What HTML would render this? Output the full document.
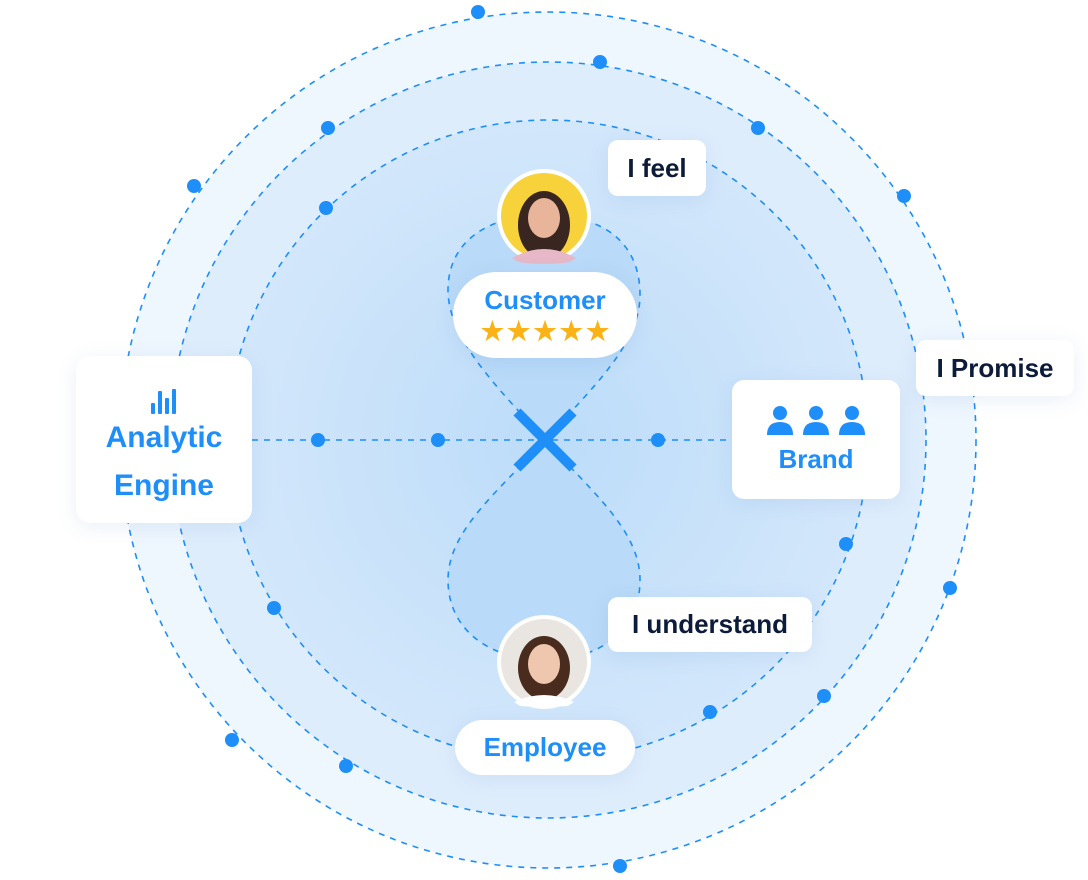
<!DOCTYPE html>
<html><head><meta charset="utf-8"><style>
body{margin:0;width:1088px;height:880px;background:#fff;overflow:hidden;position:relative;font-family:"Liberation Sans",sans-serif}
.c{position:absolute;background:#fff;box-shadow:0 4px 20px rgba(80,130,200,.12);display:flex;align-items:center;justify-content:center;color:#0d1b3a;font-weight:bold;font-size:26px}
.b{color:#1e8ef9}
</style></head><body>
<svg width="1088" height="880" style="position:absolute;left:0;top:0">
<defs><radialGradient id="g" cx="0.5" cy="0.5" r="0.5"><stop offset="0" stop-color="#bcdcf9"/><stop offset="1" stop-color="#d3e7fb"/></radialGradient></defs>
<circle cx="548" cy="440" r="428" fill="#eef6fe" stroke="#1e8ef9" stroke-width="1.6" stroke-dasharray="6 6"/>
<circle cx="548" cy="440" r="378" fill="#deedfc" stroke="#1e8ef9" stroke-width="1.6" stroke-dasharray="6 6"/>
<circle cx="548" cy="440" r="320" fill="url(#g)" stroke="#1e8ef9" stroke-width="1.6" stroke-dasharray="6 6"/>
<path d="M545,440 C500,390 448,340 448,290 C448,240 490,215 545,215 C600,215 640,240 640,295 C640,345 590,390 545,440 C500,490 448,530 448,580 C448,630 490,660 545,660 C600,660 640,630 640,580 C640,530 590,490 545,440Z" fill="#b9daf8" stroke="#1e8ef9" stroke-width="1.6" stroke-dasharray="6 6"/>
<line x1="252" y1="440" x2="732" y2="440" stroke="#1e8ef9" stroke-width="1.6" stroke-dasharray="6 6"/>
<g fill="#1e8ef9">
<circle cx="478" cy="12" r="7"/><circle cx="194" cy="186" r="7"/><circle cx="904" cy="196" r="7"/><circle cx="950" cy="588" r="7"/><circle cx="232" cy="740" r="7"/><circle cx="620" cy="866" r="7"/>
<circle cx="600" cy="62" r="7"/><circle cx="328" cy="128" r="7"/><circle cx="758" cy="128" r="7"/><circle cx="824" cy="696" r="7"/><circle cx="346" cy="766" r="7"/>
<circle cx="326" cy="208" r="7"/><circle cx="846" cy="544" r="7"/><circle cx="274" cy="608" r="7"/><circle cx="710" cy="712" r="7"/>
<circle cx="318" cy="440" r="7"/><circle cx="438" cy="440" r="7"/><circle cx="658" cy="440" r="7"/>
</g>
<path d="M517,412 L573,468 M573,412 L517,468" stroke="#1e8ef9" stroke-width="10"/>
<circle cx="544" cy="216" r="47" fill="#fff"/><circle cx="544" cy="216" r="43" fill="#f7d23a"/>
<ellipse cx="544" cy="225" rx="26" ry="34" fill="#3a2620"/><ellipse cx="544" cy="218" rx="16" ry="20" fill="#e8b49a"/><path d="M512,258 Q544,240 576,258 L570,262 Q544,266 518,262Z" fill="#e6b8c8"/>
<circle cx="544" cy="662" r="47" fill="#fff"/><circle cx="544" cy="662" r="43" fill="#e9e6e2"/>
<ellipse cx="544" cy="668" rx="26" ry="32" fill="#4a2c1e"/><ellipse cx="544" cy="664" rx="16" ry="20" fill="#efc6ae"/><path d="M514,702 Q544,688 574,702 L568,706 Q544,708 520,706Z" fill="#fff"/>
</svg>
<div class="c b" style="left:76px;top:356px;width:176px;height:167px;border-radius:14px;flex-direction:column;font-size:30px;line-height:48px;padding-top:14px;box-sizing:border-box">
<svg width="28" height="30" viewBox="0 0 28 30"><g fill="#1e8ef9"><rect x="1" y="19" width="4" height="11" rx="1"/><rect x="8" y="7" width="4" height="23" rx="1"/><rect x="15" y="14" width="4" height="16" rx="1"/><rect x="22" y="5" width="4" height="25" rx="1"/></g></svg>
<div style="text-align:center">Analytic<br>Engine</div></div>
<div class="c" style="left:608px;top:140px;width:98px;height:56px;border-radius:10px">I feel</div>
<div class="c" style="left:916px;top:340px;width:158px;height:56px;border-radius:10px">I Promise</div>
<div class="c" style="left:608px;top:597px;width:204px;height:55px;border-radius:10px">I understand</div>
<div class="c b" style="left:732px;top:380px;width:168px;height:119px;border-radius:12px;flex-direction:column">
<svg width="100" height="32" viewBox="0 0 100 32"><g fill="#1e8ef9"><circle cx="14" cy="9" r="7"/><path d="M1,31 Q1,18 14,18 Q27,18 27,31Z"/><circle cx="50" cy="9" r="7"/><path d="M37,31 Q37,18 50,18 Q63,18 63,31Z"/><circle cx="86" cy="9" r="7"/><path d="M73,31 Q73,18 86,18 Q99,18 99,31Z"/></g></svg>
<div style="margin-top:8px">Brand</div></div>
<div class="c b" style="left:453px;top:272px;width:184px;height:86px;border-radius:43px;flex-direction:column">
<div>Customer</div><div style="color:#fbb217;font-size:26px;letter-spacing:3px;line-height:30px;margin-left:3px">★★★★★</div></div>
<div class="c b" style="left:455px;top:720px;width:180px;height:55px;border-radius:28px">Employee</div>
</body></html>
